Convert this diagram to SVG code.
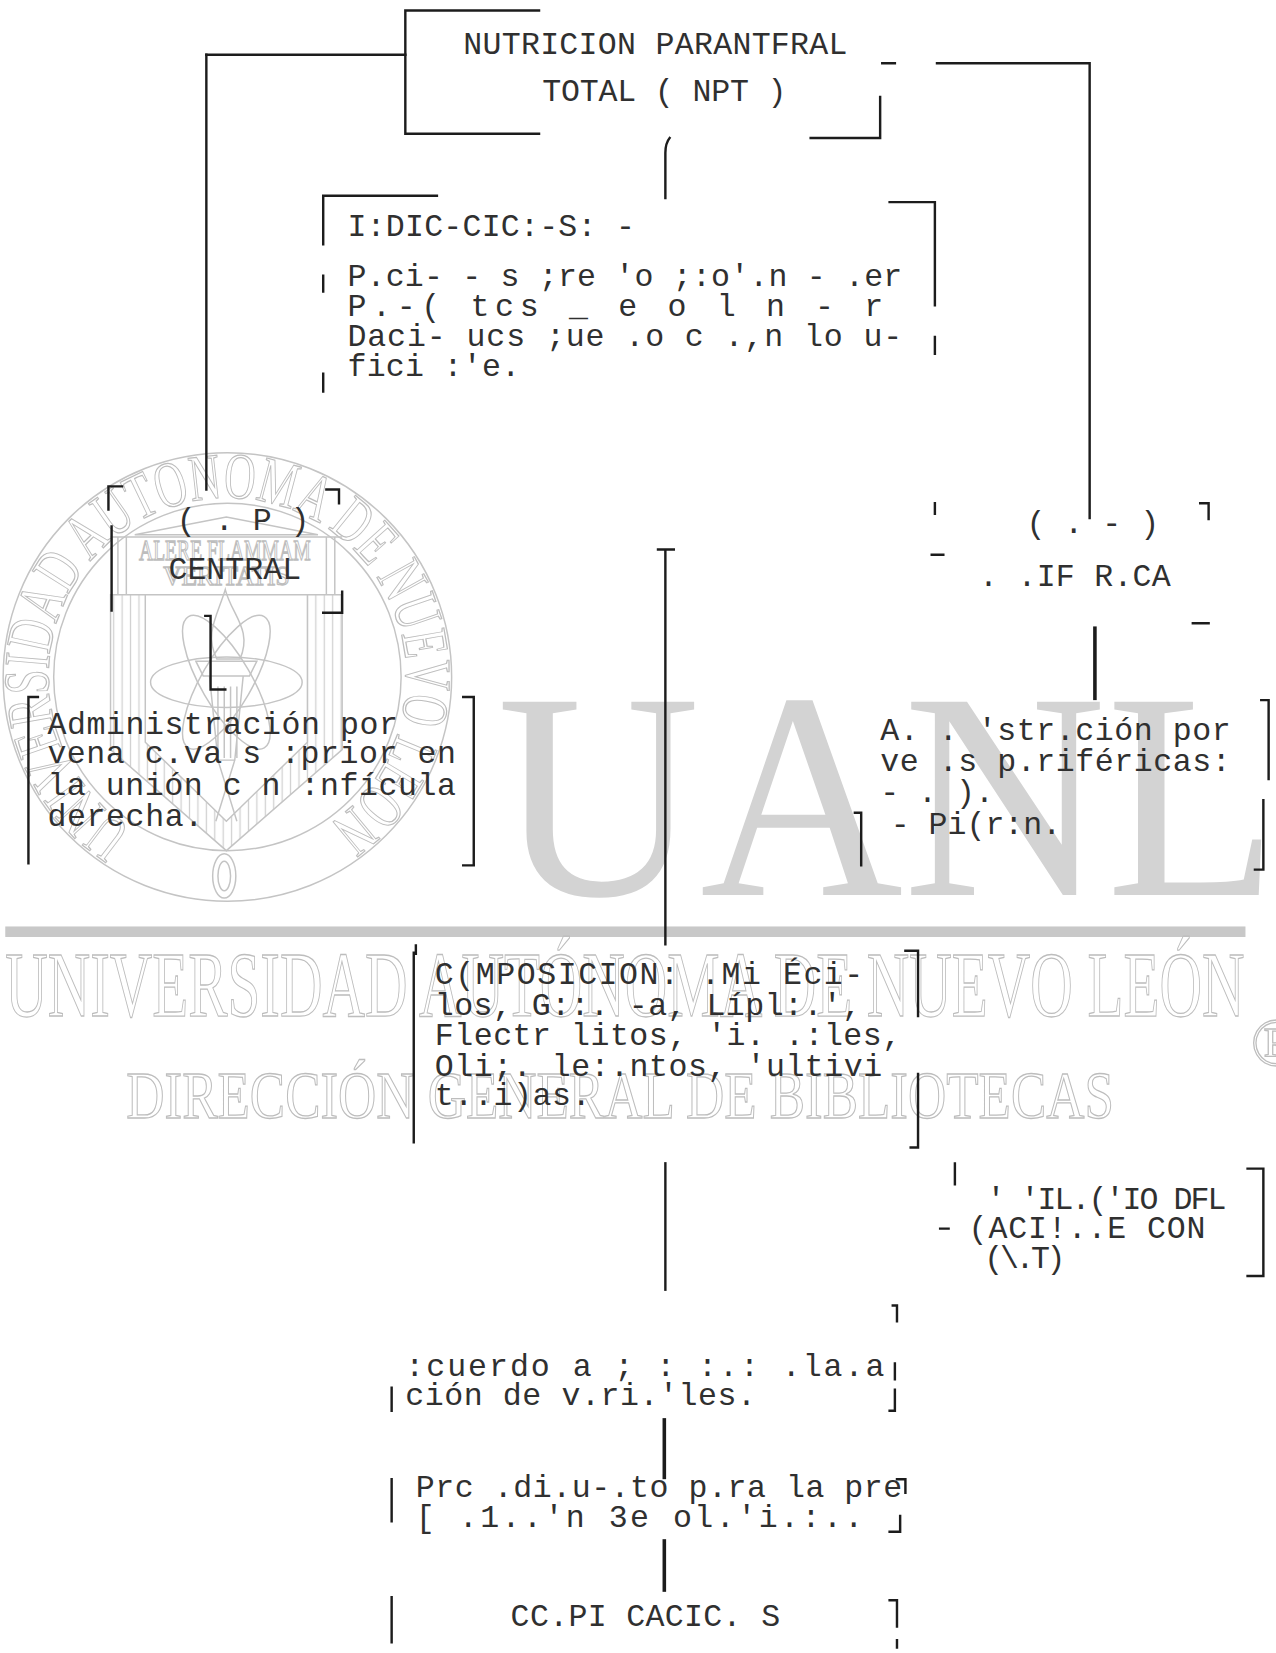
<svg xmlns="http://www.w3.org/2000/svg" width="1276" height="1653" viewBox="0 0 1276 1653" xml:space="preserve">
<style>
.ln{stroke:#1c1c1c;stroke-width:2.3;fill:none;stroke-linecap:square}
.lnb{stroke:#1c1c1c;stroke-width:3.4;fill:none}
.tx{font-family:'Liberation Mono','DejaVu Sans Mono',monospace;font-size:30px;fill:#303030}
.wm{fill:none;stroke:#c4c4c4;stroke-width:1.4}
.wmt{font-family:'Liberation Serif','DejaVu Serif',serif;fill:none;stroke:#bdbdbd;stroke-width:1.2}
.wmf{font-family:'Liberation Serif','DejaVu Serif',serif;fill:#d3d3d3}
</style>
<defs>
<path id="sealArc" d="M125.9,787.2 A170,170 0 1 1 306.1,787.2" fill="none"/>
<pattern id="hatch" width="8" height="8" patternUnits="userSpaceOnUse"><line x1="4" y1="0" x2="4" y2="8" stroke="#d0d0d0" stroke-width="1.2"/></pattern>
</defs>
<rect width="1276" height="1653" fill="#ffffff"/>
<g transform="scale(1.0528)">
<g id="watermark">
<circle cx="216" cy="643" r="213" class="wm"/>
<circle cx="216" cy="643" r="165" class="wm"/>
<text class="wmt" font-size="62"><textPath href="#sealArc" textLength="870" lengthAdjust="spacingAndGlyphs">UNIVERSIDAD AUTONOMA DE NUEVO LEON</textPath></text>
<polygon points="128,508 302,508 215,491" class="wm"/>
<path d="M105,510 H325 M112,510 V565 M120,510 V565 M310,510 V565 M318,510 V565" class="wm"/>
<text class="wmt" x="132" y="532" font-size="28" textLength="163" lengthAdjust="spacingAndGlyphs">ALERE FLAMMAM</text>
<text class="wmt" x="155" y="556" font-size="26" textLength="120" lengthAdjust="spacingAndGlyphs">VERITATIS</text>
<path d="M105,565 H325 V712 L215,808 L105,712 Z M138,565 V705 L215,780 L292,705 V565 Z" fill="url(#hatch)" fill-rule="evenodd" stroke="#c4c4c4" stroke-width="1.4"/>
<ellipse cx="215" cy="648" rx="72" ry="24" class="wm"/>
<ellipse cx="215" cy="648" rx="72" ry="24" class="wm" transform="rotate(60 215 648)"/>
<ellipse cx="215" cy="648" rx="72" ry="24" class="wm" transform="rotate(-60 215 648)"/>
<path d="M206,626 C194,602 206,586 214,560 C220,584 240,598 228,626 Z" class="wm"/>
<path d="M186,628 H244 L237,642 H193 Z M199,642 L231,642 L223,722 H207 Z M207,652 V720 M213,652 V720 M219,652 V720 M225,652 V720 M207,722 L225,780 M223,722 L205,780" class="wm"/>
<ellipse cx="213" cy="832" rx="11" ry="21" class="wm"/>
<ellipse cx="213" cy="832" rx="6" ry="14" class="wm"/>
<text class="wmf" x="472" y="850" font-size="280" textLength="742" lengthAdjust="spacingAndGlyphs">UANL</text>
<rect x="5" y="880" width="1178" height="10" fill="#c8c8c8"/>
<text class="wmt" x="5" y="965" font-size="88" textLength="1177" lengthAdjust="spacingAndGlyphs">UNIVERSIDAD AUTÓNOMA DE NUEVO LEÓN</text>
<text class="wmt" x="120" y="1062" font-size="64" textLength="938" lengthAdjust="spacingAndGlyphs">DIRECCIÓN GENERAL DE BIBLIOTECAS</text>
<text class="wmt" x="1188" y="1012" font-size="64">®</text>
</g>
<g id="connectors">
<path class="ln" d="M196,52 H385"/>
<path class="ln" d="M196,52 V465"/>
<path class="ln" d="M890,60 H1035 V492"/>
<path class="ln" d="M636,131 Q632,136 632,145 V188"/>
<path class="ln" d="M625,522 H640 M632,522 V897"/>
<path class="ln" d="M195,585 H200 V655 H214"/>
<path class="lnb" d="M1040,595 V665"/>
<path class="ln" d="M632,1105 V1225"/>
<path class="lnb" d="M631,1347 V1405"/>
<path class="lnb" d="M631,1462 V1512"/>
</g>
<g id="node-npt">
<path class="ln" d="M512,10 H385 V127 H512 M836,92 V131 H770 M838,60 H850"/>
<text class="tx" x="440" y="51" textLength="365">NUTRICION PARANTFRAL</text>
<text class="tx" x="515" y="96" textLength="232">TOTAL ( NPT )</text>
</g>
<g id="node-indicaciones">
<path class="ln" d="M415,186 H307 V232 M307,262 V277 M307,355 V372 M845,192 H888 V290 M888,320 V336"/>
<text class="tx" x="330" y="224" textLength="273">I:DIC-CIC:-S: -</text>
<text class="tx" x="330" y="272" textLength="527">P.ci- - s ;re 'o ;:o'.n - .er</text>
<text class="tx" x="330" y="300" textLength="509">P.-(  tcs _ e  o   l n -   r</text>
<text class="tx" x="330" y="329" textLength="527">Daci- ucs ;ue .o c .,n lo  u-</text>
<text class="tx" x="330" y="357" textLength="164">fici :'e.</text>
</g>
<g id="node-central">
<path class="ln" d="M116,462 H103 V484 M106,500 V580 M310,465 H322 V478 M307,582 H325 V562"/>
<text class="tx" x="168" y="503">( . P )</text>
<text class="tx" x="160" y="550" textLength="126">CENTRAL</text>
</g>
<g id="node-periferica">
<path class="ln" d="M888,478 V488 M1140,478 H1148 V493 M885,527 H896 M1133,592 H1148"/>
<text class="tx" x="975" y="506">( . - )</text>
<text class="tx" x="930" y="557" textLength="182">. .IF R.CA</text>
</g>
<g id="node-admin-central">
<path class="ln" d="M36,662 H27 V820 M440,662 H450 V822 H440"/>
<text class="tx" x="45" y="697" textLength="333">Administración por</text>
<text class="tx" x="45" y="725" textLength="388">vena c.va s :prior en</text>
<text class="tx" x="45" y="755" textLength="388">la unión c n :nfícula</text>
<text class="tx" x="45" y="785" textLength="148">derecha.</text>
</g>
<g id="node-admin-periferica">
<path class="ln" d="M812,772 H818 V822 M1198,665 H1205 V740 M1200,760 V826 H1192"/>
<text class="tx" x="836" y="703" textLength="333">A. . 'str.ción por</text>
<text class="tx" x="836" y="732" textLength="333">ve .s p.riféricas:</text>
<text class="tx" x="836" y="762">- .   ).</text>
<text class="tx" x="846" y="792">- Pi(r:n.</text>
</g>
<g id="node-composicion">
<path class="ln" d="M395,898 V906 M393,905 V1085 M860,903 H872 V965 M872,1020 V1090 H865"/>
<text class="tx" x="413" y="935" textLength="407">C(MPOSICION: .Mi  Éci-</text>
<text class="tx" x="413" y="964" textLength="405">los, G::. -a, Lípl:.',</text>
<text class="tx" x="413" y="993" textLength="443">Flectr litos, 'i. .:les,</text>
<text class="tx" x="413" y="1022" textLength="425">Oli;. le:.ntos, 'ultivi</text>
<text class="tx" x="413" y="1050" textLength="148">t..i)as.</text>
</g>
<g id="node-inicio">
<path class="ln" d="M907,1105 V1125 M1185,1110 H1200 V1212 H1185 M893,1167 H901"/>
<text class="tx" x="937" y="1148" textLength="228">' 'IL.('IO DFL</text>
<text class="tx" x="920" y="1176" textLength="225">(ACI!..E CON</text>
<text class="tx" x="935" y="1204" textLength="77">(\.T)</text>
</g>
<g id="node-monitoreo">
<path class="ln" d="M848,1240 H852 V1255 M372,1318 V1340 M850,1295 V1310 M850,1320 V1340 H845"/>
<text class="tx" x="385" y="1307" textLength="455">:cuerdo a   ; : :.: .la.a</text>
<text class="tx" x="385" y="1335" textLength="333">ción de v.ri.'les.</text>
</g>
<g id="node-procedimiento">
<path class="ln" d="M372,1405 V1445 M852,1405 H860 V1418 M845,1455 H855 V1440"/>
<text class="tx" x="395" y="1422" textLength="462">Prc .di.u-.to p.ra la pre</text>
<text class="tx" x="395" y="1450" textLength="425">[ .1..'n 3e  ol.'i.:..</text>
</g>
<g id="node-complicaciones">
<path class="ln" d="M372,1517 V1560 M845,1520 H852 V1545 M852,1558 V1565"/>
<text class="tx" x="485" y="1544" textLength="256">CC.PI CACIC. S</text>
</g>
</g>
</svg>
